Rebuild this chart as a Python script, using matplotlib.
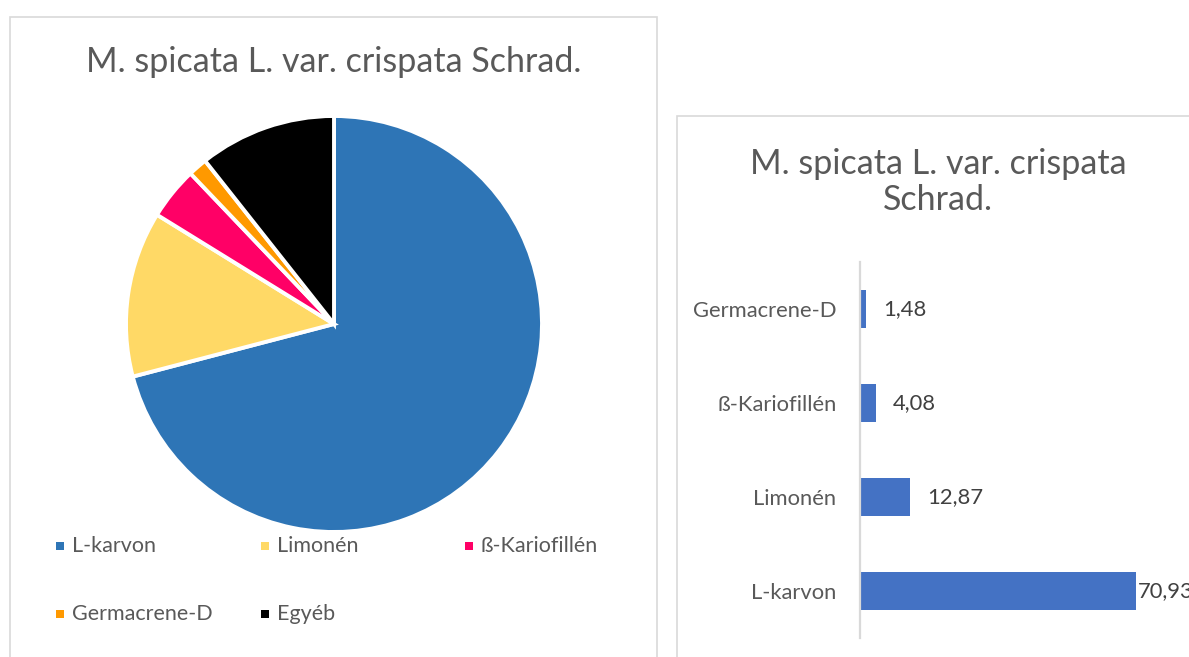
import matplotlib
matplotlib.use("Agg")
import matplotlib.pyplot as plt
from matplotlib.patches import Rectangle

# ---- data ----
pie_labels = ["L-karvon", "Limonén", "ß-Kariofillén", "Germacrene-D", "Egyéb"]
pie_values = [70.93, 12.87, 4.08, 1.48, 10.64]
pie_colors = ["#2E75B6", "#FFD966", "#FF0066", "#FF9900", "#000000"]

bar_labels = ["L-karvon", "Limonén", "ß-Kariofillén", "Germacrene-D"]
bar_values = [70.93, 12.87, 4.08, 1.48]
bar_value_text = ["70,93", "12,87", "4,08", "1,48"]

title = "M. spicata L. var. crispata Schrad."

W, H = 1189, 657
plt.rcParams['font.family'] = ['Lato', 'DejaVu Sans']
fig = plt.figure(figsize=(W / 100, H / 100), dpi=100)


def fx(x):
    return x / W


def fy(y):
    return 1 - y / H


def rect_px(x0, y0, x1, y1):
    return [fx(x0), fy(y1), fx(x1) - fx(x0), fy(y0) - fy(y1)]


TXT = "#595959"
BORDER = "#D9D9D9"

# panel borders
fig.add_artist(Rectangle((fx(10), fy(700)), fx(657) - fx(10), fy(17) - fy(700),
                         transform=fig.transFigure, fill=False, ec=BORDER, lw=1.2))
fig.add_artist(Rectangle((fx(677), fy(700)), fx(1250) - fx(677), fy(116) - fy(700),
                         transform=fig.transFigure, fill=False, ec=BORDER, lw=1.2))

# ---- pie ----
axp = fig.add_axes(rect_px(126, 116, 542, 532))
axp.pie(pie_values, colors=pie_colors, startangle=90, counterclock=False,
        radius=1.0, wedgeprops=dict(edgecolor="white", linewidth=2.8))
axp.set_xlim(-1.0, 1.0)
axp.set_ylim(-1.0, 1.0)
axp.set_aspect("equal")
axp.axis("off")

fig.text(fx(334), fy(62), title, ha="center", va="center", fontsize=24.5, color=TXT)

# legend
leg_pos = [(60, 546), (265, 546), (469, 546), (60, 614), (265, 614)]
for (lx, ly), lab, col in zip(leg_pos, pie_labels, pie_colors):
    s = 8
    fig.add_artist(Rectangle((fx(lx - s / 2), fy(ly + s / 2)), s / W, s / H,
                             transform=fig.transFigure, color=col, lw=0))
    fig.text(fx(lx + 12), fy(ly), lab, ha="left", va="center", fontsize=15.5, color=TXT)

# ---- bar ----
px_per_unit = (1136 - 860) / 70.93
axb = fig.add_axes(rect_px(860, 262, 1189, 638))
axb.barh(range(len(bar_values)), bar_values, height=0.4, color="#4472C4")
axb.set_xlim(0, (1189 - 860) / px_per_unit)
axb.set_ylim(-0.5, len(bar_values) - 0.5)
axb.set_yticks(range(len(bar_labels)))
axb.set_yticklabels(bar_labels, fontsize=15.8, color=TXT)
axb.tick_params(axis="y", length=0, pad=17)
axb.set_xticks([])
for sp in ["top", "right", "bottom"]:
    axb.spines[sp].set_visible(False)
axb.spines["left"].set_color(BORDER)
axb.spines["left"].set_linewidth(1.6)
axb.patch.set_alpha(0)
vmax = max(bar_values)
for i, (v, t) in enumerate(zip(bar_values, bar_value_text)):
    off = 2 if v == vmax else 17
    axb.annotate(t, (v, i), xytext=(off * 0.72, 0), textcoords="offset points",
                 ha="left", va="center", fontsize=15.8, color="#404040",
                 annotation_clip=False)

fig.text(fx(938), fy(182), "M. spicata L. var. crispata\nSchrad.", ha="center",
         va="center", fontsize=24.5, color=TXT, linespacing=1.18)

fig.savefig("out.png", dpi=100)
